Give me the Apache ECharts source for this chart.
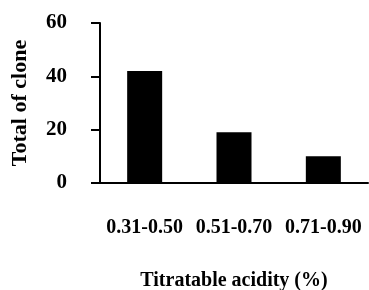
<!DOCTYPE html>
<html>
<head>
<meta charset="utf-8">
<script src="https://cdn.jsdelivr.net/npm/echarts@6/dist/echarts.min.js"></script>
<style>html,body{margin:0;padding:0;background:#fff;}#c{width:369px;height:290px;}</style>
</head>
<body>
<div id="c"></div>
<script>
const categories = ['0.31-0.50', '0.51-0.70', '0.71-0.90'];
const totals = [42, 19, 10];
const yTicks = [0, 20, 40, 60];
const xTitle = 'Titratable acidity (%)';
const yTitle = 'Total of clone';

const font = "'Liberation Serif', 'Times New Roman', serif";
const chart = echarts.init(document.getElementById('c'), null, {renderer: 'canvas'});
chart.setOption({
  animation: false,
  backgroundColor: '#fff',
  grid: {left: 100, right: 1, top: 23, bottom: 107, containLabel: false, outerBoundsMode: 'none'},
  xAxis: {
    type: 'category',
    data: categories,
    name: xTitle,
    nameLocation: 'middle',
    nameGap: 88,
    nameTextStyle: {fontFamily: font, fontWeight: 'bold', fontSize: 20, color: '#000'},
    axisLine: {lineStyle: {color: '#000', width: 2}},
    axisTick: {show: false},
    axisLabel: {interval: 0, hideOverlap: false, fontFamily: font, fontWeight: 'bold', fontSize: 20, color: '#000', margin: 35}
  },
  yAxis: {
    type: 'value',
    min: yTicks[0],
    max: yTicks[yTicks.length - 1],
    interval: 20,
    name: yTitle,
    nameLocation: 'middle',
    nameGap: 69,
    nameTextStyle: {fontFamily: font, fontWeight: 'bold', fontSize: 22, color: '#000'},
    splitLine: {show: false},
    axisLine: {show: true, lineStyle: {color: '#000', width: 2}},
    axisTick: {show: true, inside: false, length: 9, lineStyle: {color: '#000', width: 2}},
    axisLabel: {fontFamily: font, fontWeight: 'bold', fontSize: 21, color: '#000', margin: 33}
  },
  series: [{
    type: 'bar',
    data: totals,
    barWidth: 35,
    itemStyle: {color: '#000'}
  }]
});
</script>
</body>
</html>
